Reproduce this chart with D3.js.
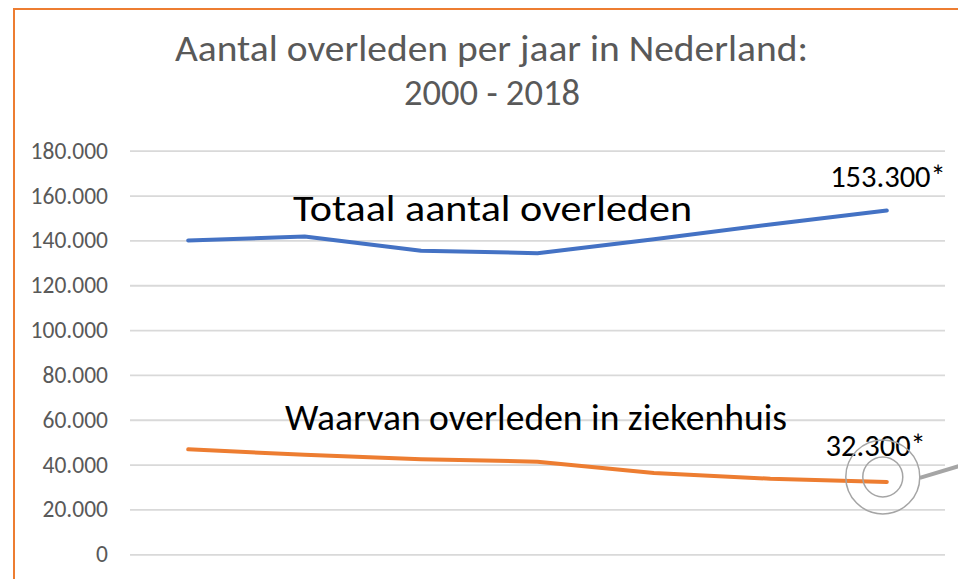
<!DOCTYPE html>
<html>
<head>
<meta charset="utf-8">
<script src="https://cdn.jsdelivr.net/npm/d3@7"></script>
<style>
  html, body { margin: 0; padding: 0; background: #fff; }
  svg { display: block; }
</style>
</head>
<body>
<div id="chart"></div>
<script>
// Data
const years = ["2000", "2003", "2006", "2009", "2012", "2015", "2018"];
const totaal = [140000, 141700, 135400, 134300, 140500, 147100, 153300];
const ziekenhuis = [46800, 44400, 42400, 41300, 36300, 33700, 32300];
const yTicks = [0, 20000, 40000, 60000, 80000, 100000, 120000, 140000, 160000, 180000];

const W = 958, H = 579;
const font = "Carlito, Calibri, 'Open Sans', sans-serif";

const svg = d3.select("#chart")
    .append("svg")
    .attr("width", W)
    .attr("height", H);

// Chart frame (orange border, right/bottom fall outside the crop)
svg.append("rect")
    .attr("x", 14)
    .attr("y", 9)
    .attr("width", W + 20)
    .attr("height", H + 20)
    .attr("fill", "#fff")
    .attr("stroke", "#ED7D31")
    .attr("stroke-width", 2);

// Scales
const x = d3.scaleBand().domain(years).range([130, 945]);
const y = d3.scaleLinear().domain([0, 180000]).range([554.3, 150.7]);
const cx = d => x(d) + x.bandwidth() / 2;

const nl = d3.formatLocale({ decimal: ",", thousands: ".", grouping: [3], currency: ["", ""] });
const fmt = nl.format(",");

// Title
const title = svg.append("text")
    .attr("text-anchor", "middle")
    .attr("fill", "#595959")
    .style("font-family", font)
    .style("font-size", "37px");
title.append("tspan").attr("x", 491.5).attr("y", 61)
    .attr("textLength", 633).attr("lengthAdjust", "spacingAndGlyphs")
    .text("Aantal overleden per jaar in Nederland:");
title.append("tspan").attr("x", 492).attr("y", 104.5)
    .attr("textLength", 176).attr("lengthAdjust", "spacingAndGlyphs")
    .text("2000 - 2018");

// Gridlines + y labels
const yAxis = svg.append("g")
    .attr("transform", "translate(130,0)")
    .call(d3.axisLeft(y).tickValues(yTicks).tickFormat(fmt).tickSize(-815).tickPadding(22));
yAxis.select(".domain").remove();
yAxis.selectAll(".tick line")
    .attr("stroke", "#D9D9D9")
    .attr("stroke-width", 1.8);
yAxis.selectAll(".tick text")
    .attr("fill", "#595959")
    .style("font-family", font)
    .style("font-size", "23.5px");

// Lines
const line = d3.line()
    .x((d, i) => cx(years[i]))
    .y(d => y(d));

svg.append("path")
    .datum(totaal)
    .attr("fill", "none")
    .attr("stroke", "#4472C4")
    .attr("stroke-width", 4)
    .attr("stroke-linecap", "round")
    .attr("stroke-linejoin", "round")
    .attr("d", line);

svg.append("path")
    .datum(ziekenhuis)
    .attr("fill", "none")
    .attr("stroke", "#ED7D31")
    .attr("stroke-width", 4)
    .attr("stroke-linecap", "round")
    .attr("stroke-linejoin", "round")
    .attr("d", line);

// Series labels
const txt = (s, px, py, size, anchor, len) => {
    const t = svg.append("text")
        .attr("x", px).attr("y", py)
        .attr("text-anchor", anchor || "start")
        .attr("fill", "#000")
        .style("font-family", font)
        .style("font-size", size)
        .text(s);
    if (len) t.attr("textLength", len).attr("lengthAdjust", "spacingAndGlyphs");
    return t;
};

txt("Totaal aantal overleden", 293, 221, "36px", "start", 399);
txt("Waarvan overleden in ziekenhuis", 285, 430, "36px", "start", 502);

const last = years.length - 1;
txt(fmt(totaal[last]) + "*", cx(years[last]) + 59, y(totaal[last]) - 24, "30.5px", "end");
txt(fmt(ziekenhuis[last]) + "*", cx(years[last]) + 39, y(ziekenhuis[last]) - 26, "30.5px", "end");

// Grey callout circle around last hospital value
const ccx = cx(years[last]) - 4, ccy = y(ziekenhuis[last]) - 5;
const callout = svg.append("g")
    .attr("fill", "none")
    .attr("stroke", "#A5A5A5");
callout.append("circle").attr("cx", ccx).attr("cy", ccy).attr("r", 37).attr("stroke-width", 1.5);
callout.append("circle").attr("cx", ccx).attr("cy", ccy).attr("r", 20).attr("stroke-width", 1.5);
callout.append("line")
    .attr("x1", ccx + 37).attr("y1", ccy + 1)
    .attr("x2", ccx + 80).attr("y2", ccy - 12)
    .attr("stroke-width", 4);
</script>
</body>
</html>
